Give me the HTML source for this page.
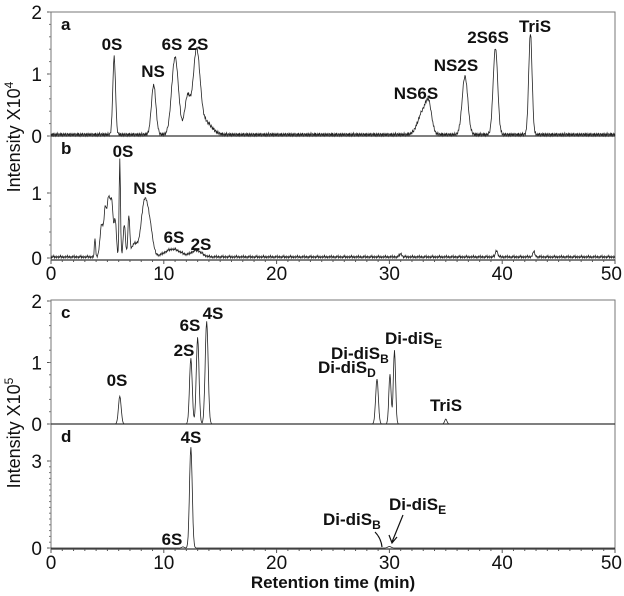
<!DOCTYPE html>
<html><head><meta charset="utf-8"><style>
body{margin:0;background:#fff;}
svg{display:block;font-family:"Liberation Sans",Arial,sans-serif;}
</style></head><body>
<svg id="c" width="624" height="596"></svg>
<script>
// ---- data ----
const aTimes=[5.6,9.1,11.0,12.1,12.9,13.6,33.0,33.5,36.7,39.4,42.5];
const aHeights=[1.26,0.8,1.25,0.6,1.28,0.22,0.38,0.35,0.94,1.4,1.63];
const aWidths=[0.12,0.2,0.3,0.25,0.3,0.6,0.45,0.25,0.25,0.2,0.15];
const bTimes=[3.9,4.5,4.8,5.1,5.4,5.7,6.1,6.5,6.9,7.4,8.3,8.8,10.8,12.9,31,39.5,42.8];
const bHeights=[0.3,0.5,0.6,0.9,0.75,0.55,1.5,0.5,0.6,0.2,0.85,0.35,0.12,0.1,0.05,0.1,0.08];
const bWidths=[0.05,0.15,0.1,0.15,0.12,0.1,0.06,0.1,0.08,0.3,0.3,0.25,0.7,0.45,0.1,0.1,0.1];
const cTimes=[6.1,12.4,13.0,13.8,28.9,30.05,30.45,35.0];
const cHeights=[0.45,1.07,1.41,1.67,0.73,0.81,1.2,0.08];
const cWidths=[0.12,0.12,0.12,0.13,0.12,0.1,0.1,0.1];
const dTimes=[11.7,12.4,30.0];
const dHeights=[0.04,3.48,0.05];
const dWidths=[0.1,0.12,0.15];
const noiseA=[0.03,0.0,0.04,0.01,0.05,0.0,0.02,0.04,0.0,0.03,0.01,0.05,0.02,0.0,0.04];
const noiseB=[0.02,0.0,0.03,0.01,0.02,0.04,0.0,0.02,0.01,0.03,0.0,0.02];
const noiseC=[0,0,0,0];
const xTicks=[0,10,20,30,40,50];
// ---- layout ----
const X0=51,X1=615;
const sx=t=>X0+(X1-X0)*t/50;
const panels=[
 {name:'a',t:aTimes,h:aHeights,w:aWidths,n:noiseA,zero:136,ppu:62,ticks:[0,1,2],top:12,bot:136,base:0.0},
 {name:'b',t:bTimes,h:bHeights,w:bWidths,n:noiseB,zero:258,ppu:65,ticks:[0,1],top:136,bot:260,base:0.0},
 {name:'c',t:cTimes,h:cHeights,w:cWidths,n:noiseC,zero:424,ppu:61.5,ticks:[0,1,2],top:300,bot:424,base:0},
 {name:'d',t:dTimes,h:dHeights,w:dWidths,n:noiseC,zero:548,ppu:29,ticks:[0,3],top:424,bot:549,base:0}
];
const svg=document.getElementById('c');
const NS='http://www.w3.org/2000/svg';
function mk(tag,attrs,parent){const e=document.createElementNS(NS,tag);for(const k in attrs)e.setAttribute(k,attrs[k]);(parent||svg).appendChild(e);return e;}
function txt(x,y,s,size,anchor,name,weight){const e=mk('text',{x:x,y:y,'font-size':size,'text-anchor':anchor||'middle','font-weight':weight||'normal',fill:'#111'});e.textContent=s;


return e;}
[[12,260],[300,549]].forEach((b,i)=>{const r=mk('rect',{x:X0,y:b[0],width:X1-X0,height:b[1]-b[0],fill:'none',stroke:'#777','stroke-width':1});

});
panels.forEach(p=>{
 const g=mk('g',{});
 
 
 let d='';
 for(let i=0;i<=1000;i++){const t=i*0.05;let v=p.base+p.n[i%p.n.length];
  for(let k=0;k<p.t.length;k++){const z=(t-p.t[k])/p.w[k];v+=p.h[k]*Math.exp(-0.5*z*z);}
  const y=Math.max(p.top+1,p.zero-v*p.ppu);
  d+=(i?'L':'M')+sx(t).toFixed(1)+','+y.toFixed(1);}
 const path=mk('path',{d:d,fill:'none',stroke:'#222','stroke-width':0.8},g);
 
 
 mk('line',{x1:X0,x2:X1,y1:p.bot,y2:p.bot,stroke:'#333','stroke-width':1.3},g);
 p.ticks.forEach(v=>{const y=p.zero-v*p.ppu;txt(X0-9,y+7,String(v),19,'end','y-tick-'+p.name+'-'+v);
  mk('line',{x1:X0-4,x2:X0,y1:y,y2:y,stroke:'#555'},g);});
 for(let v=0;v<=p.ticks[p.ticks.length-1]+0.01;v+=0.2){const y=p.zero-v*p.ppu;if(y>p.top)mk('line',{x1:X0-2,x2:X0,y1:y,y2:y,stroke:'#777'},g);}
 txt(X0+10,p.top+18,p.name,17,'start','panel-label-'+p.name,'bold');
});
[260,549].forEach((y,j)=>{
 for(let t=0;t<=50;t++){mk('line',{x1:sx(t),x2:sx(t),y1:y,y2:y+(t%10?2:4),stroke:'#555'});}
 xTicks.forEach(t=>txt(t===50?622:sx(t),y+20,String(t),19,t===50?'end':'middle','x-tick-'+(j+1)+'-'+t));
});
const yt1=txt(0,0,'',18,'middle','y-axis-title-top');yt1.setAttribute('transform','translate(20,137) rotate(-90)');
yt1.innerHTML='Intensity X10<tspan dy="-7" font-size="12">4</tspan>';
const yt2=txt(0,0,'',18,'middle','y-axis-title-bottom');yt2.setAttribute('transform','translate(20,433) rotate(-90)');
yt2.innerHTML='Intensity X10<tspan dy="-7" font-size="12">5</tspan>';
txt(333,588,'Retention time (min)',17,'middle','x-axis-title','bold');
const sub=s=>'Di-diS<tspan dy="4" font-size="12">'+s+'</tspan>';
const L=[[112,50,'0S','middle'],[153,77,'NS','middle'],[172,50,'6S','middle'],[198,50,'2S','middle'],[416,99,'NS6S','middle'],[456,71,'NS2S','middle'],[488,43,'2S6S','middle'],[535,32,'TriS','middle'],
[123,157,'0S','middle'],[145,194,'NS','middle'],[174,243,'6S','middle'],[201,250,'2S','middle'],
[117,386,'0S','middle'],[184,356,'2S','middle'],[190,331,'6S','middle'],[213,319,'4S','middle'],[318,373,sub('D'),'start'],[331,359,sub('B'),'start'],[385,344,sub('E'),'start'],[446,411,'TriS','middle'],
[191,443,'4S','middle'],[172,545,'6S','middle'],[323,525,sub('B'),'start'],[389,510,sub('E'),'start']];
L.forEach((l,i)=>{const e=txt(l[0],l[1],'',17,l[3],'peak-label-'+i,'bold');e.innerHTML=l[2];});
const a1=mk('path',{d:'M375,532 q6,6 7,15',fill:'none',stroke:'#111','stroke-width':1.2});


const a2=mk('path',{d:'M403,515 L392,542 M389,535 L392,543 L397,537',fill:'none',stroke:'#111','stroke-width':1.2});


</script>
</body></html>
